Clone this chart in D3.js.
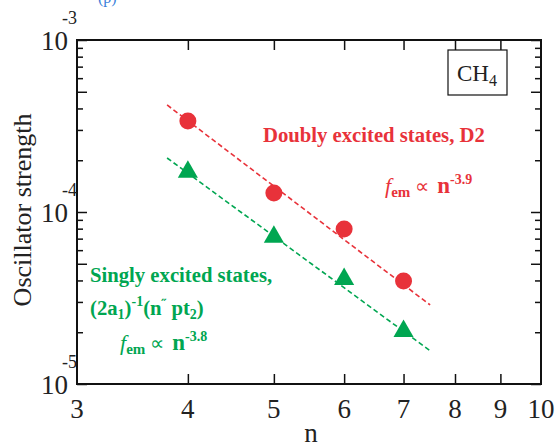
<!DOCTYPE html>
<html>
<head>
<meta charset="utf-8">
<script src="https://cdn.jsdelivr.net/npm/d3@7"></script>
<style>
  body { margin: 0; background: #fff; }
  svg text { font-family: "Liberation Serif", "Times New Roman", serif; }
</style>
</head>
<body>
<div id="chart"></div>
<script>
// principal quantum number n and oscillator strengths
var nValues = [4, 5, 6, 7];
var doublyF = [3.38e-4, 1.29e-4, 7.96e-5, 3.97e-5];
var singlyF = [1.71e-4, 7.16e-5, 4.07e-5, 2.03e-5];

// dashed fit lines, end points only
var fitN = [3.79, 7.5];
var doublyFitF = [4.19e-4, 2.88e-5];
var singlyFitF = [2.06e-4, 1.56e-5];

var xTickValues = [3, 4, 5, 6, 7, 8, 9, 10];
var yDecades = [1e-5, 1e-4, 1e-3];
var yExponents = ["-5", "-4", "-3"];

var red = "#e8323a";
var green = "#00a651";

var svgWidth = 555;
var svgHeight = 443;
var margin = { top: 40, right: 14, bottom: 59, left: 77 };
var width = svgWidth - margin.left - margin.right;
var height = svgHeight - margin.top - margin.bottom;

var svg = d3.select("#chart")
  .append("svg")
  .attr("width", svgWidth)
  .attr("height", svgHeight);

svg.append("rect").attr("width", svgWidth).attr("height", svgHeight).attr("fill", "#fff");

var g = svg.append("g")
  .attr("transform", `translate(${margin.left},${margin.top})`);

var x = d3.scaleLog().domain([3, 10]).range([0, width]);
var y = d3.scaleLog().domain([1e-5, 1e-3]).range([height, 0]);

// y tick sets: decades and the 5's get long ticks, the rest short
var yLong = [], yShort = [];
[1e-5, 1e-4].forEach(function(d) {
  for (var m = 1; m <= 9; m++) {
    if (m == 1 || m == 5) yLong.push(m * d); else yShort.push(m * d);
  }
});
yLong.push(1e-3);

function styleAxis(sel) {
  sel.select(".domain").remove();
  sel.selectAll(".tick line").attr("stroke", "#111").attr("stroke-width", 1.5);
  sel.selectAll(".tick text").remove();
}

g.append("g").call(d3.axisLeft(y).tickValues(yLong).tickSize(-10)).call(styleAxis);
g.append("g").call(d3.axisLeft(y).tickValues(yShort).tickSize(-6)).call(styleAxis);
g.append("g").attr("transform", `translate(${width},0)`)
  .call(d3.axisRight(y).tickValues(yLong).tickSize(-10)).call(styleAxis);
g.append("g").attr("transform", `translate(${width},0)`)
  .call(d3.axisRight(y).tickValues(yShort).tickSize(-6)).call(styleAxis);

var xInner = xTickValues.slice(1, -1);
g.append("g").attr("transform", `translate(0,${height})`)
  .call(d3.axisBottom(x).tickValues(xInner).tickSize(-10)).call(styleAxis);
g.append("g")
  .call(d3.axisTop(x).tickValues(xInner).tickSize(-10)).call(styleAxis);

// frame
g.append("rect")
  .attr("width", width).attr("height", height)
  .attr("fill", "none").attr("stroke", "#111").attr("stroke-width", 2);

// x tick labels
g.selectAll(".xlab")
  .data(xTickValues)
  .enter().append("text")
  .attr("x", d => x(d))
  .attr("y", height + 34)
  .attr("text-anchor", "middle")
  .attr("font-size", 27)
  .attr("fill", "#222")
  .text(d => d);

// y tick labels 10^k
yDecades.forEach(function(d, i) {
  g.append("text")
    .attr("x", -9).attr("y", y(d) + 10)
    .attr("text-anchor", "end")
    .attr("font-size", 27).attr("fill", "#222")
    .text("10");
  g.append("text")
    .attr("x", -15).attr("y", y(d) - 16)
    .attr("font-size", 18).attr("fill", "#222")
    .text(yExponents[i]);
});

// axis titles
svg.append("text")
  .attr("x", 311)
  .attr("y", 442)
  .attr("text-anchor", "middle")
  .attr("font-size", 27).attr("fill", "#222")
  .text("n");

svg.append("text")
  .attr("transform", `translate(31,${margin.top + height / 2 - 2}) rotate(-90)`)
  .attr("text-anchor", "middle")
  .attr("font-size", 26).attr("fill", "#222")
  .text("Oscillator strength");

// fit lines
var line = d3.line().x(d => x(d[0])).y(d => y(d[1]));
g.append("path")
  .datum(fitN.map((n, i) => [n, doublyFitF[i]]))
  .attr("d", line).attr("fill", "none")
  .attr("stroke", red).attr("stroke-width", 1.6).attr("stroke-dasharray", "5,3");
g.append("path")
  .datum(fitN.map((n, i) => [n, singlyFitF[i]]))
  .attr("d", line).attr("fill", "none")
  .attr("stroke", green).attr("stroke-width", 1.6).attr("stroke-dasharray", "5,3");

// markers
g.selectAll(".dot")
  .data(nValues.map((n, i) => [n, doublyF[i]]))
  .enter().append("circle")
  .attr("cx", d => x(d[0])).attr("cy", d => y(d[1]))
  .attr("r", 8.5).attr("fill", red);

g.selectAll(".tri")
  .data(nValues.map((n, i) => [n, singlyF[i]]))
  .enter().append("path")
  .attr("d", d3.symbol(d3.symbolTriangle).size(175))
  .attr("transform", d => `translate(${x(d[0])},${y(d[1])})`)
  .attr("fill", green);

// CH4 box
svg.append("rect")
  .attr("x", 448).attr("y", 50).attr("width", 59).attr("height", 45)
  .attr("fill", "#fff").attr("stroke", "#111").attr("stroke-width", 1.2);
var ch = svg.append("text")
  .attr("x", 477).attr("y", 81).attr("text-anchor", "middle")
  .attr("font-size", 23).attr("fill", "#222");
ch.append("tspan").text("CH");
ch.append("tspan").attr("font-size", 16).attr("dy", 5).text("4");

// annotations
function powerLaw(xPos, yPos, color, exponent) {
  var t = svg.append("text").attr("x", xPos).attr("y", yPos).attr("fill", color);
  t.append("tspan").attr("font-style", "italic").attr("font-size", 22).text("f");
  t.append("tspan").attr("font-weight", "bold").attr("font-size", 15).attr("dy", 4).text("em");
  t.append("tspan").attr("font-size", 20).attr("dy", -4).text(" \u221D ");
  t.append("tspan").attr("font-weight", "bold").attr("font-size", 23).attr("dx", 3).text("n");
  t.append("tspan").attr("font-weight", "bold").attr("font-size", 14).attr("dy", -9).text(exponent);
}

svg.append("text")
  .attr("x", 263).attr("y", 142)
  .attr("font-size", 20.7).attr("font-weight", "bold").attr("fill", red)
  .text("Doubly excited states, D2");
powerLaw(385, 193, red, "-3.9");

svg.append("text")
  .attr("x", 90).attr("y", 282)
  .attr("font-size", 20.7).attr("font-weight", "bold").attr("fill", green)
  .text("Singly excited states,");
var s = svg.append("text")
  .attr("x", 90).attr("y", 315)
  .attr("font-size", 20.7).attr("font-weight", "bold").attr("fill", green);
s.append("tspan").text("(2a");
s.append("tspan").attr("font-size", 14).attr("dy", 4).text("1");
s.append("tspan").attr("dy", -4).text(")");
s.append("tspan").attr("font-size", 14).attr("dy", -9).text("-1");
s.append("tspan").attr("dy", 9).text("(n");
s.append("tspan").attr("font-size", 14).attr("dy", -6).text("\u02DD");
s.append("tspan").attr("dy", 6).text(" pt");
s.append("tspan").attr("font-size", 14).attr("dy", 4).text("2");
s.append("tspan").attr("dy", -4).text(")");
powerLaw(120, 350, green, "-3.8");

// clipped caption fragment at the top edge
svg.append("text")
  .attr("x", 98).attr("y", 3)
  .attr("font-size", 16).attr("fill", "#3b7fd9")
  .text("(p)");
</script>
</body>
</html>
